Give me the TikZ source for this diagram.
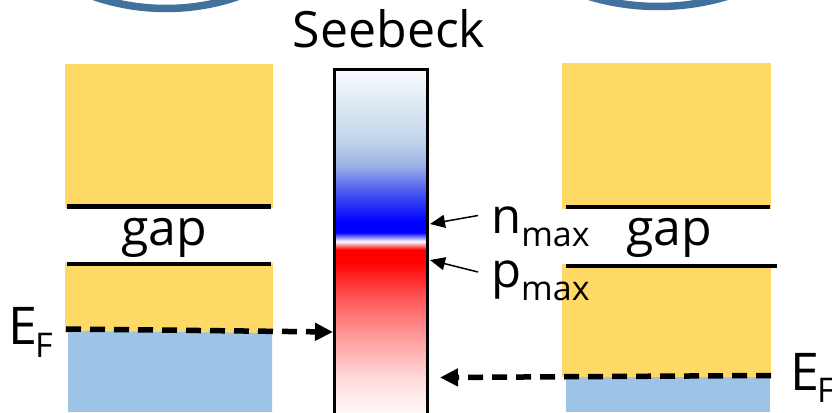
\documentclass[tikz,border=0pt]{standalone}
\usepackage{fontspec}
\setmainfont{Open Sans}
\usetikzlibrary{arrows.meta}
\definecolor{yel}{RGB}{255,217,102}
\definecolor{blu}{RGB}{157,195,230}
\definecolor{arcblue}{RGB}{65,113,156}
\definecolor{s00}{RGB}{255,248,248}
\definecolor{s01}{RGB}{255,220,220}
\definecolor{s02}{RGB}{255,160,160}
\definecolor{s03}{RGB}{255,90,90}
\definecolor{s04}{RGB}{255,0,0}
\definecolor{s05}{RGB}{255,255,255}
\definecolor{s06}{RGB}{0,0,255}
\definecolor{s07}{RGB}{64,80,240}
\definecolor{s08}{RGB}{160,180,230}
\definecolor{s09}{RGB}{194,214,234}
\definecolor{s10}{RGB}{226,235,245}
\definecolor{s11}{RGB}{248,250,253}
\pgfdeclareverticalshading{seebeckbar}{100bp}{%
color(0bp)=(s00); color(25bp)=(s00); color(29.7bp)=(s01); color(35.6bp)=(s02);
color(41.5bp)=(s03); color(47.06bp)=(s04); color(48.82bp)=(s04); color(50bp)=(s05);
color(51.32bp)=(s06); color(52.94bp)=(s06); color(56.91bp)=(s07); color(61.32bp)=(s08);
color(65bp)=(s09); color(70.88bp)=(s10); color(75bp)=(s11); color(100bp)=(s11)}
\tikzset{
  gapline/.style={line width=4.5pt, black},
  efarrow/.style={line width=5.5pt, dash pattern=on 15pt off 9pt, -{Triangle[length=18pt,width=17pt]}},
  lblarrow/.style={line width=1.5pt, -{Triangle[length=15pt,width=13pt]}},
  arcline/.style={line width=7.5pt, arcblue},
  big/.style={font=\fontsize{50}{60}\selectfont, inner sep=0pt},
}
\newcommand{\subfs}[1]{\fontsize{#1}{#1}\selectfont}
\begin{document}
\begin{tikzpicture}[x=1pt,y=-1pt]
\useasboundingbox (0,0) rectangle (832,412);
\clip (0,0) rectangle (832,412);
% top arcs
\draw[arcline] (166,-214.5) circle[radius=223pt];
\draw[arcline] (658,-233.5) circle[radius=240pt];
% left column
\fill[yel] (65,64) rectangle (273,333);
\fill[blu] (68,331) -- (272,333) -- (272,412) -- (68,412) -- cycle;
\fill[white] (60,208) rectangle (278,263);
\draw[gapline] (67,206.5) -- (271,206.5);
\draw[gapline] (67,264) -- (271,264);
\node[big, anchor=base] (gapL) at (164.5,245) {gap};
% right column
\fill[yel] (562,63) rectangle (771,377);
\fill[blu] (566,377) rectangle (770,412);
\fill[white] (558,209) rectangle (780,264);
\draw[gapline] (566,207) -- (770,207);
\draw[gapline] (566,266) -- (777,266);
\node[big, anchor=base] (gapR) at (669.5,245) {gap};
% Seebeck bar
\shade[shading=seebeckbar] (336,71) rectangle (426,412);
\draw[line width=3pt] (334.5,420) -- (334.5,69.5) -- (427.5,69.5) -- (427.5,420);
\node[big, anchor=base] (title) at (389,48) {Seebeck};
\coordinate (barN) at (430,224);
\coordinate (barP) at (430,260);
\coordinate (barEL) at (333,332);
\coordinate (barER) at (440,377.5);
% labels
\node[inner sep=0pt, anchor=base west] (nmax) at (491,233) {\subfs{49}n\subfs{34}\raisebox{-13pt}{max}};
\node[inner sep=0pt, anchor=base west] (pmax) at (491,287) {\subfs{49}p\subfs{34}\raisebox{-13pt}{max}};
\coordinate (nfrom) at (478,215.5);
\coordinate (pfrom) at (478,272);
\draw[lblarrow] (nfrom) -- (barN);
\draw[lblarrow] (pfrom) -- (barP);
\node[inner sep=0pt, anchor=base west] (efL) at (8,344) {\subfs{52}E\kern-2pt\subfs{34}\raisebox{-13pt}{F}};
\node[inner sep=0pt, anchor=base west] (efR) at (790,390) {\subfs{52}E\kern-2pt\subfs{34}\raisebox{-12pt}{F}};
\coordinate (efLstart) at (66,329);
\coordinate (efRstart) at (771,375.5);
\draw[efarrow] (efLstart) -- (barEL);
\draw[efarrow] (efRstart) -- (barER);
\end{tikzpicture}
\end{document}
